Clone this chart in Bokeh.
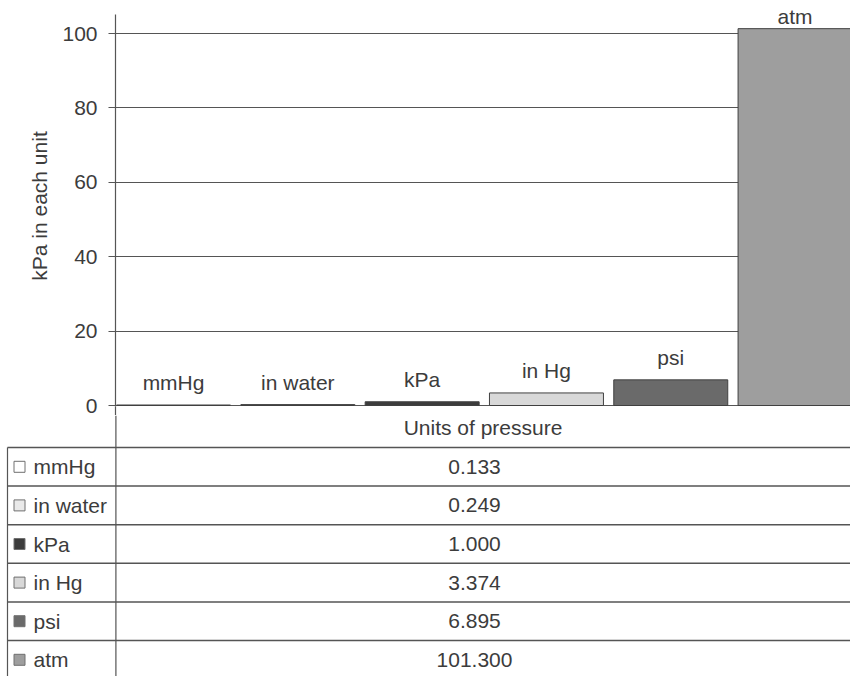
from bokeh.plotting import figure
from bokeh.models import Range1d, FixedTicker, ColumnDataSource, LabelSet
from bokeh.layouts import column
from bokeh.embed import file_html
from bokeh.resources import INLINE
from bokeh.core.properties import value

# ---- data ----
units = ["mmHg", "in water", "kPa", "in Hg", "psi", "atm"]
kpa_per_unit = [0.133, 0.249, 1.000, 3.374, 6.895, 101.300]
fills = ["#ffffff", "#e9e9e9", "#3c3c3c", "#d8d8d8", "#6a6a6a", "#9e9e9e"]
y_ticks = [0, 20, 40, 60, 80, 100]
y_title = "kPa in each unit"
x_title = "Units of pressure"

# ---- style / layout constants ----
W = 850
PAGE_H = 676
LEFT = 115
FRAME_TOP = 5          # top of the plotting area (room for the "atm" label)
AXIS_TOP = 14          # where the drawn axis line starts
ZERO_PX = 405          # pixel row of the zero line
FRAME_BOTTOM = 406
H_CHART = 415
H_TABLE = PAGE_H - H_CHART
PX = 3.72              # pixels per kPa
FONT = "Liberation Sans"
FS = "21px"
TXT = "#3c3c3c"
LINE = "#555555"
Y_TOP = (ZERO_PX - FRAME_TOP) / PX
Y_AXIS_TOP = (ZERO_PX - AXIS_TOP) / PX
Y_MIN = -(FRAME_BOTTOM - ZERO_PX) / PX
X_RANGE = (-0.467, 5.446)
X_PX = (W - LEFT) / (X_RANGE[1] - X_RANGE[0])

xs = list(range(len(units)))
# label offset: 15px above the bar, but kept below the top of the axis area
offs = [min(15, (Y_AXIS_TOP - v) * PX - 9) for v in kpa_per_unit]
src = ColumnDataSource(dict(x=xs, v=kpa_per_unit, unit=units, fill=fills, off=offs))

p = figure(width=W, height=H_CHART,
           x_range=Range1d(*X_RANGE), y_range=Range1d(Y_MIN, Y_TOP),
           output_backend="svg", toolbar_location=None,
           min_border_left=LEFT, min_border_top=FRAME_TOP,
           min_border_bottom=H_CHART - FRAME_BOTTOM, min_border_right=0)
p.frame_align = False
p.outline_line_color = None
p.background_fill_color = "white"
p.border_fill_color = "white"

p.vbar(x="x", top="v", bottom=0, width=0.917, fill_color="fill",
       line_color="#404040", line_width=1, source=src)

labels = LabelSet(x="x", y="v", text="unit", y_offset="off",
                  text_align="center", text_baseline="alphabetic",
                  text_font=value(FONT), text_font_size=value(FS),
                  text_color=TXT, source=src)
p.add_layout(labels)

ax = p.yaxis[0]
ax.ticker = FixedTicker(ticks=y_ticks)
ax.bounds = (Y_MIN, Y_AXIS_TOP)
ax.axis_label = y_title
ax.axis_label_text_font = FONT
ax.axis_label_text_font_size = FS
ax.axis_label_text_font_style = "normal"
ax.axis_label_text_color = TXT
ax.axis_label_standoff = 8
ax.major_label_text_font = FONT
ax.major_label_text_font_size = FS
ax.major_label_text_color = TXT
ax.major_label_standoff = 11
ax.major_tick_out = 7
ax.major_tick_in = 0
ax.minor_tick_line_color = None
ax.axis_line_color = LINE
ax.axis_line_width = 1.2
ax.major_tick_line_color = LINE
ax.major_tick_line_width = 1.2

# bottom axis: only its single long tick continues the left rule down to the table
xa = p.xaxis[0]
edge_x = X_RANGE[0] + 0.3 / X_PX
xa.ticker = FixedTicker(ticks=[edge_x])
xa.major_label_overrides = {edge_x: ""}
xa.major_label_text_font_size = "0px"
xa.major_label_standoff = 0
xa.major_tick_out = H_CHART - FRAME_BOTTOM
xa.major_tick_in = 0
xa.major_tick_line_color = LINE
xa.major_tick_line_width = 1.2
xa.minor_tick_line_color = None
xa.axis_line_color = None

p.xgrid.visible = False
p.ygrid.ticker = FixedTicker(ticks=y_ticks)
p.ygrid.grid_line_color = LINE
p.ygrid.grid_line_width = 1.2

# ---- data table (with the "Units of pressure" header band) ----
BAND_MID = 427 - H_CHART
ROW0 = 447 - H_CHART
ROW = 38.6
TABLE_LEFT = 7
SWATCH_X = 19
LABEL_X = 33
VALUE_X = 474

t = figure(width=W, height=H_TABLE,
           x_range=Range1d(0, W), y_range=Range1d(H_TABLE, 0),
           output_backend="svg", toolbar_location=None,
           min_border=0, x_axis_location=None, y_axis_location=None)
t.frame_align = False
t.grid.visible = False
t.outline_line_color = None
t.background_fill_color = "white"
t.border_fill_color = "white"

row_tops = [ROW0 + i * ROW for i in range(len(units))]
row_mid = [r + ROW / 2 for r in row_tops]

t.segment(x0=[TABLE_LEFT] * len(row_tops), x1=[W] * len(row_tops),
          y0=row_tops, y1=row_tops, line_color=LINE, line_width=1.5)
t.segment(x0=[LEFT + 0.4, TABLE_LEFT], x1=[LEFT + 0.4, TABLE_LEFT],
          y0=[0, ROW0], y1=[H_TABLE, H_TABLE], line_color=LINE, line_width=1.2)

t.text(x=[(LEFT + W) / 2], y=[BAND_MID], text=[x_title],
       text_align="center", text_baseline="middle",
       text_font=value(FONT), text_font_size=value(FS), text_color=TXT)

tsrc = ColumnDataSource(dict(y=row_mid, unit=units, fill=fills,
                             val=[f"{v:.3f}" for v in kpa_per_unit]))
t.rect(x=SWATCH_X, y="y", width=11, height=11, fill_color="fill",
       line_color="#707070", line_width=1, source=tsrc)
t.text(x=LABEL_X, y="y", text="unit", text_align="left", text_baseline="middle",
       text_font=value(FONT), text_font_size=value(FS), text_color=TXT, source=tsrc)
t.text(x=VALUE_X, y="y", text="val", text_align="center", text_baseline="middle",
       text_font=value(FONT), text_font_size=value(FS), text_color=TXT, source=tsrc)

layout = column(p, t, spacing=0)
open("out.html", "w").write(file_html(layout, INLINE))
